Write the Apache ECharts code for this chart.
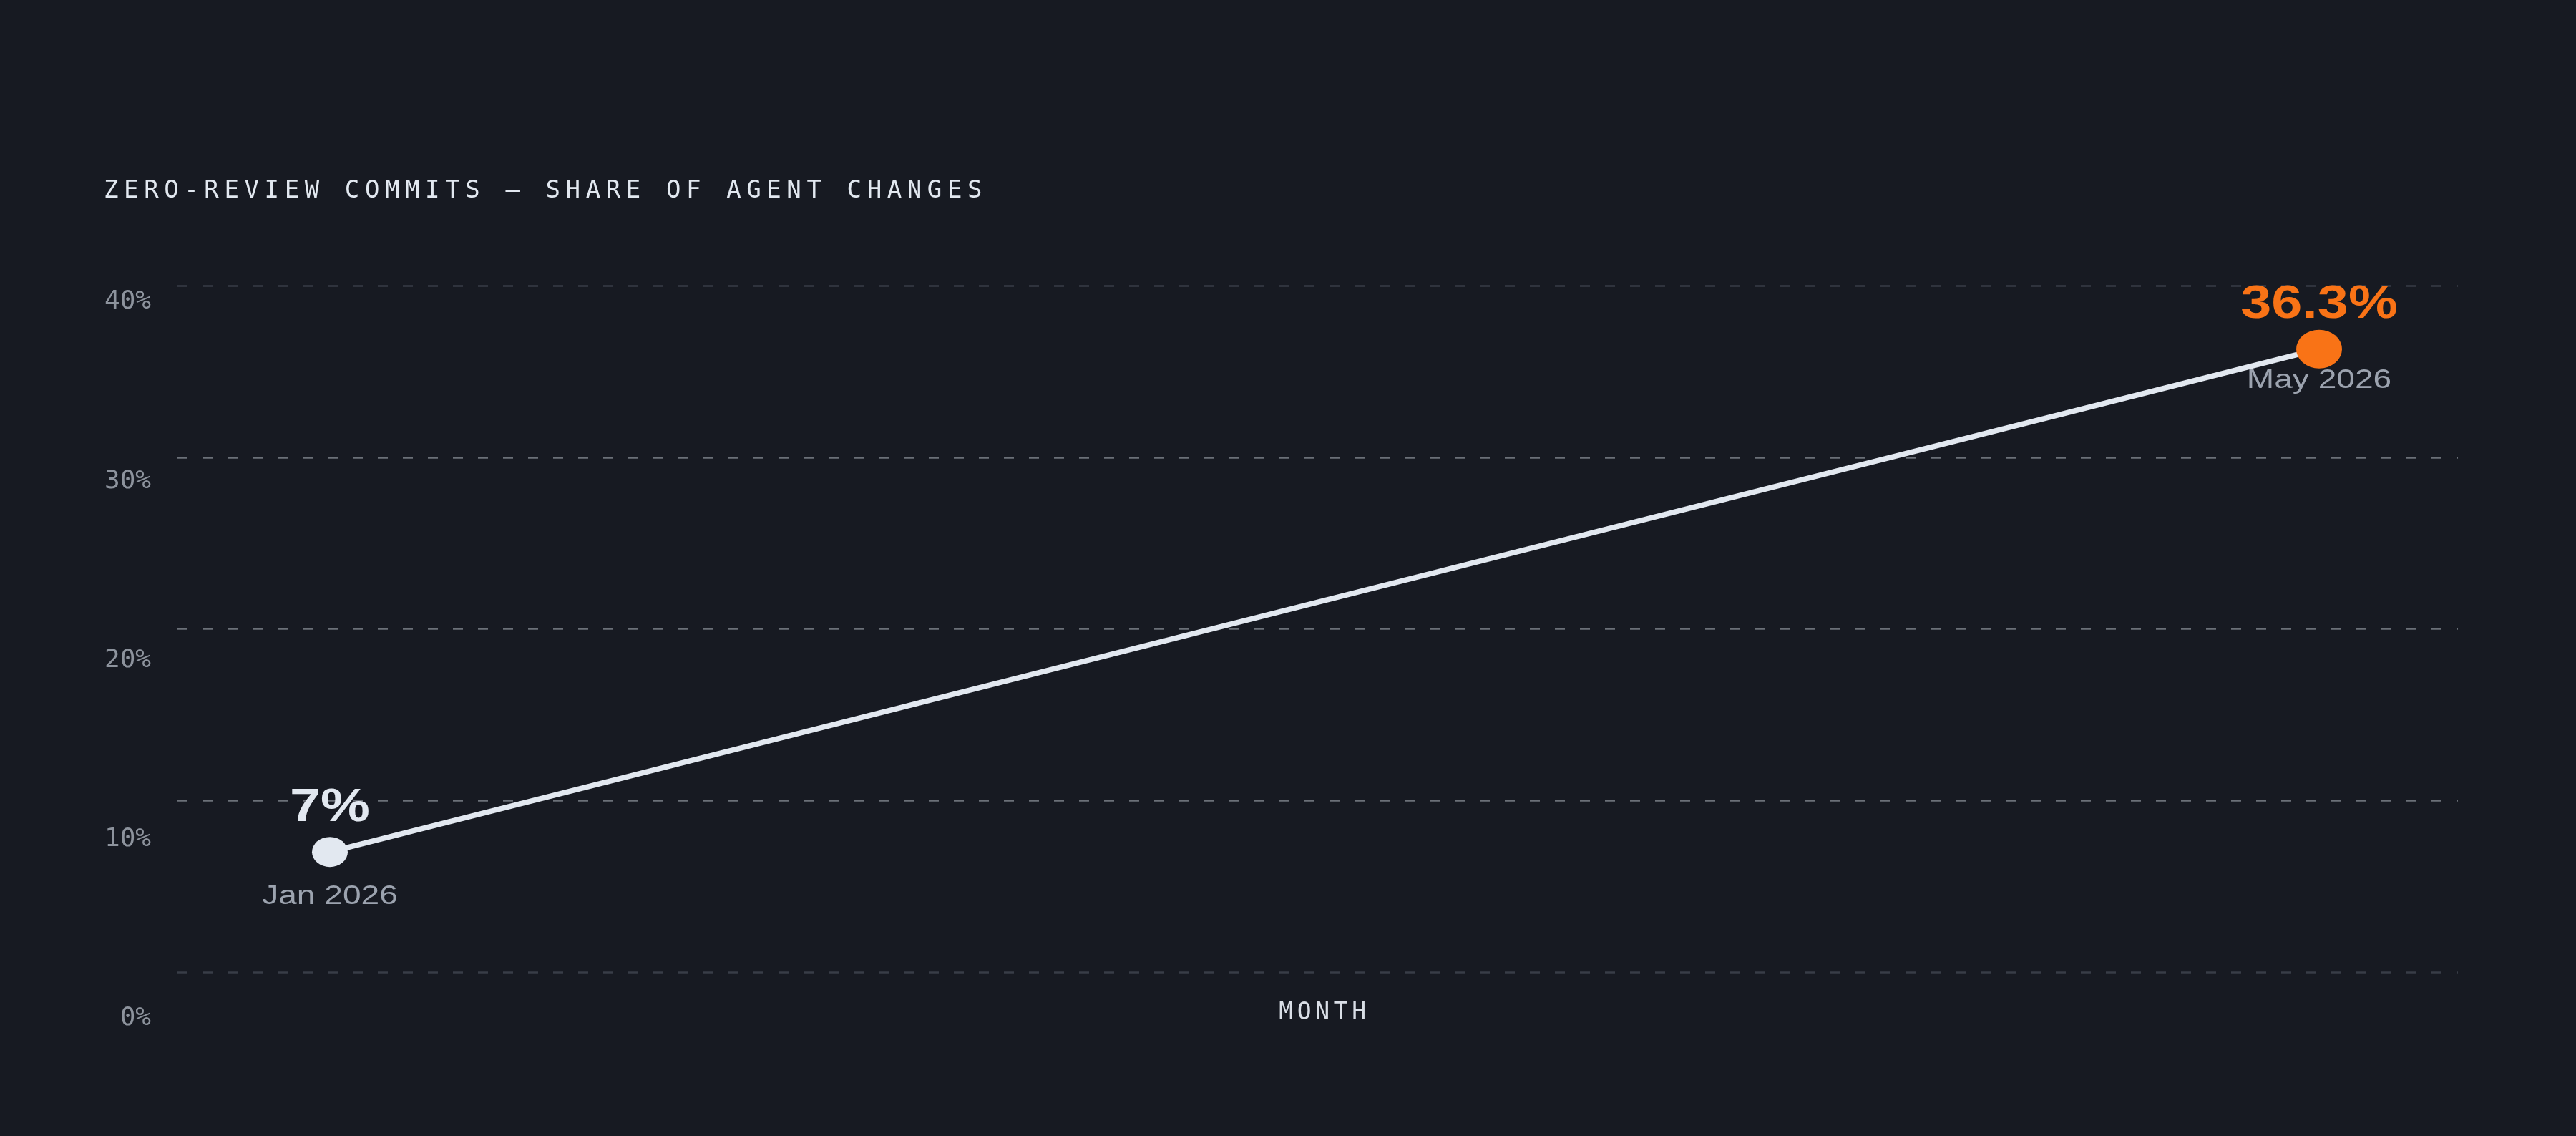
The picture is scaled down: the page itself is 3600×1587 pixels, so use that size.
<!DOCTYPE html>
<html>
<head>
<meta charset="utf-8">
<title>Zero-review commits</title>
<script src="https://cdn.jsdelivr.net/npm/echarts@6/dist/echarts.min.js"></script>
<style>
  html, body { margin: 0; padding: 0; background: #171a22; }
  #chart { width: 3600px; height: 1587px; }
</style>
</head>
<body>
<div id="chart"></div>
<script>
// data
var months = ['Jan 2026', 'May 2026'];
var shares = [7, 36.3];
var yTicks = [0, 10, 20, 30, 40];

var titleText = 'ZERO-REVIEW COMMITS \u2014 SHARE OF AGENT CHANGES';
var axisName = 'MONTH';

var mono = '"DejaVu Sans Mono", monospace';
var sans = '"Liberation Sans", Arial, sans-serif';
var orange = '#f97316';
var light = '#e2e8f0';

// spread letters out: one rich token per character
function spaced(str, key) {
    return str.split('').map(function (c) { return '{' + key + '|' + c + '}'; }).join('');
}

var last = shares.length - 1;
var dateOffset = [63, 44];

var chart = echarts.init(document.getElementById('chart'));
var option = {
    backgroundColor: '#171a22',
    animation: false,
    title: {
        text: spaced(titleText, 't'),
        left: 145,
        top: 250,
        padding: 0,
        textStyle: {
            fontWeight: 'normal',
            rich: {
                t: { fontFamily: mono, fontSize: 34, fontWeight: 'normal', color: light, padding: [0, 7.6, 0, 0] }
            }
        }
    },
    grid: [
        // dashed gridlines
        { left: 248, right: 165, top: 399, bottom: 229 },
        // line + points
        { left: 461, right: 359, top: 399, bottom: 229 },
        // tick labels (sit a little lower than the lines)
        { left: 248, right: 165, top: 422, bottom: 164 }
    ],
    xAxis: [
        { gridIndex: 0, type: 'value', show: false },
        {
            gridIndex: 1,
            type: 'category',
            data: months,
            boundaryGap: false,
            axisLine: { show: false },
            axisTick: { show: false },
            axisLabel: { show: false },
            name: spaced(axisName, 'm'),
            nameLocation: 'middle',
            nameGap: 41,
            nameTextStyle: {
                rich: {
                    m: { fontFamily: mono, fontSize: 33, color: '#d9dee6', padding: [0, 5.6, 0, 0] }
                }
            }
        },
        { gridIndex: 2, type: 'value', show: false }
    ],
    yAxis: [
        {
            gridIndex: 0,
            type: 'value',
            min: yTicks[0],
            max: yTicks[yTicks.length - 1],
            interval: 10,
            axisLine: { show: false },
            axisTick: { show: false },
            axisLabel: { show: false },
            splitLine: {
                lineStyle: {
                    color: ['#383d47', '#6b7078', '#6b7078', '#6b7078', '#383d47'],
                    width: 2.5,
                    type: [14, 21]
                }
            }
        },
        {
            gridIndex: 1,
            type: 'value',
            min: yTicks[0],
            max: yTicks[yTicks.length - 1],
            show: false
        },
        {
            gridIndex: 2,
            type: 'value',
            min: yTicks[0],
            max: yTicks[yTicks.length - 1],
            interval: 10,
            axisLine: { show: false },
            axisTick: { show: false },
            splitLine: { show: false },
            axisLabel: {
                formatter: '{value}%',
                margin: 37,
                fontFamily: mono,
                fontSize: 36,
                color: '#8d939d'
            }
        }
    ],
    series: [
        {
            type: 'line',
            xAxisIndex: 1,
            yAxisIndex: 1,
            data: shares,
            symbol: 'circle',
            symbolSize: function (val, params) {
                return params.dataIndex === last ? [64, 54] : [50, 42];
            },
            itemStyle: {
                color: function (params) {
                    return params.dataIndex === last ? orange : light;
                }
            },
            lineStyle: { color: light, width: 7.5 },
            z: 3
        },
        {
            // value + month captions around each point
            type: 'custom',
            xAxisIndex: 1,
            yAxisIndex: 1,
            data: shares.map(function (v, i) { return [i, v]; }),
            z: 4,
            renderItem: function (params, api) {
                var i = params.dataIndex;
                var pt = api.coord([api.value(0), api.value(1)]);
                return {
                    type: 'group',
                    children: [
                        {
                            type: 'text',
                            x: pt[0],
                            y: pt[1] - 61,
                            scaleX: 1.21,
                            style: {
                                text: api.value(1) + '%',
                                font: 'bold 64px ' + sans,
                                fill: i === last ? orange : light,
                                align: 'center',
                                verticalAlign: 'middle'
                            }
                        },
                        {
                            type: 'text',
                            x: pt[0],
                            y: pt[1] + dateOffset[i],
                            scaleX: 1.28,
                            style: {
                                text: months[i],
                                font: '36px ' + sans,
                                fill: '#9ca3af',
                                align: 'center',
                                verticalAlign: 'middle'
                            }
                        }
                    ]
                };
            }
        }
    ]
};
chart.setOption(option);
</script>
</body>
</html>
